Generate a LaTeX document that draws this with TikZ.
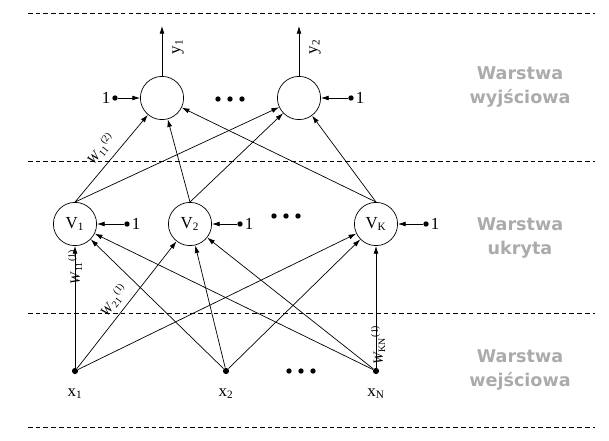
\documentclass[tikz,border=0pt]{standalone}
\usepackage{fontspec}
\setmainfont{Liberation Serif}
\newfontfamily\graysans{DejaVu Sans}
\usetikzlibrary{arrows.meta, positioning}

\begin{document}
\begin{tikzpicture}[
  x=0.025cm, y=-0.025cm,
  line width=0.5pt,
  every node/.style={font=\fontsize{12}{14}\selectfont},
  neuron/.style={draw, circle, minimum size=1.08cm, inner sep=0pt},
  bias/.style={circle, fill, minimum size=3.8pt, inner sep=0pt},
  inp/.style={circle, fill, minimum size=4.4pt, inner sep=0pt},
  arr/.style={-{Latex[length=5.5pt,width=3.5pt]}},
  layerline/.style={dash pattern=on 3.3pt off 2.2pt},
  layername/.style={
    align=center,
    text=black!33,
    font=\graysans\bfseries\fontsize{12.5}{17}\selectfont
    },
  wlabel/.style={inner sep=0pt, font=\fontsize{10}{11}\selectfont}
]

\useasboundingbox (0,0) rectangle (609,440);

\foreach \y in {13,161,313,427}
  \draw[layerline] (28,\y) -- (595,\y);

% output layer
\node[neuron] (o1) at (162,98) {};
\node[neuron] (o2) at (299,98) {};
\coordinate (y1) at (162,26);
\coordinate (y2) at (299,26);
\draw[arr] (o1) -- (y1);
\draw[arr] (o2) -- (y2);
\node[rotate=90] (ly1) at (178,47) {y\textsubscript{1}};
\node[rotate=90] (ly2) at (315,47) {y\textsubscript{2}};
\node[bias, label={[inner sep=1pt]left:1}] (bo1) at (115,98) {};
\node[bias, label={[inner sep=1pt]right:1}] (bo2) at (351,98) {};
\draw[arr] (bo1) -- (o1);
\draw[arr] (bo2) -- (o2);

% hidden layer
\node[neuron] (v1) at (75,224) {V\textsubscript{1}};
\node[neuron] (v2) at (190,224) {V\textsubscript{2}};
\node[neuron] (vk) at (376,224) {V\textsubscript{K}};
\node[bias, label={[inner sep=1pt]right:1}] (bv1) at (127,224) {};
\node[bias, label={[inner sep=1pt]right:1}] (bv2) at (240,224) {};
\node[bias, label={[inner sep=1pt]right:1}] (bvk) at (426,224) {};
\draw[arr] (bv1) -- (v1);
\draw[arr] (bv2) -- (v2);
\draw[arr] (bvk) -- (vk);

% input layer
\node[inp] (x1) at (75,371) {};
\node[inp] (x2) at (226,371) {};
\node[inp] (xn) at (376,371) {};
\node[below=2.2mm of x1] (lx1) {x\textsubscript{1}};
\node[below=2.2mm of x2] (lx2) {x\textsubscript{2}};
\node[below=2.2mm of xn] (lxn) {x\textsubscript{N}};

\foreach \n/\cx/\cy in {o/230/99, v/286/216, x/301/371}
  \foreach \i in {1,2,3}
    \node[bias] (dots\n\i) at (\cx+12*\i-24,\cy) {};

\foreach \a in {x1,x2,xn}
  \foreach \b in {v1,v2,vk}
    \draw[arr] (\a) -- (\b);

\foreach \a in {v1,v2,vk}
  \foreach \b in {o1,o2}
    \draw[arr] (\a.north) -- (\b);

\node[wlabel, rotate=50] (w112) at (101,149) {\textit{W}\textsubscript{11}\textsuperscript{(2)}};
\node[wlabel, rotate=90] (w111) at (75,267) {\textit{W}\textsubscript{11}\textsuperscript{(1)}};
\node[wlabel, rotate=52] (w211) at (114,300) {\textit{W}\textsubscript{21}\textsuperscript{(1)}};
\node[wlabel, rotate=90] (wkn1) at (378,345) {\textit{W}\textsubscript{KN}\textsuperscript{(1)}};

\node[layername] (lwy) at (520,87) {Warstwa\\wyjściowa};
\node[layername] (luk) at (520,238) {Warstwa\\ukryta};
\node[layername] (lwe) at (520,370) {Warstwa\\wejściowa};

\end{tikzpicture}
\end{document}
